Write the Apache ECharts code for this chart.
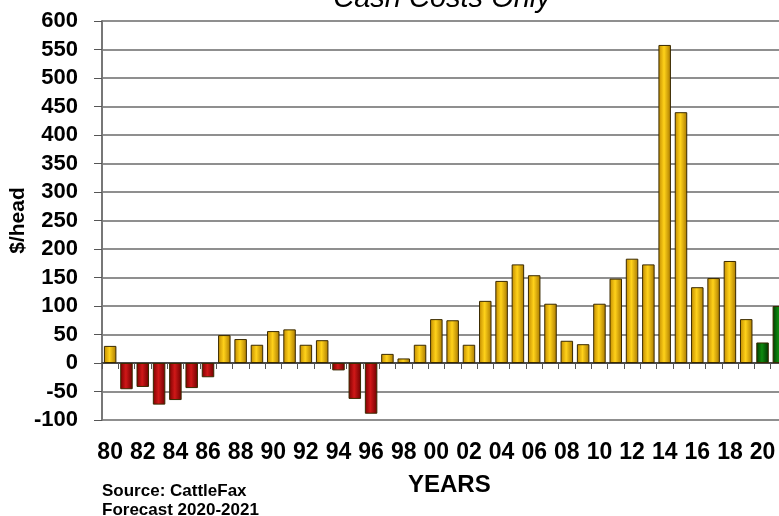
<!DOCTYPE html>
<html>
<head>
<meta charset="utf-8">
<script src="https://cdn.jsdelivr.net/npm/echarts@6/dist/echarts.min.js"></script>
<style>html,body{margin:0;padding:0;background:#fff}#c{width:779px;height:516px}</style>
</head>
<body>
<div id="c"></div>
<script>
const years = ['80','81','82','83','84','85','86','87','88','89','90','91','92','93','94','95','96','97','98','99',
  '00','01','02','03','04','05','06','07','08','09','10','11','12','13','14','15','16','17','18','19','20','21'];
const values = [30,-46,-42,-73,-65,-44,-25,49,42,32,56,59,32,40,-13,-63,-89,16,8,32,
  77,75,32,109,144,173,154,104,39,33,104,148,183,173,558,440,133,149,179,77,36,100];
const forecastYears = ['20','21'];
const yTicks = {min:-100, max:600, interval:50};

function grad(a,b,c){
  return {type:'linear',x:0,y:0,x2:1,y2:0,colorStops:[{offset:0,color:a},{offset:0.45,color:b},{offset:1,color:c}]};
}
const gold = grad('#c08a00','#ffd21a','#a87800');
const red = grad('#7a0000','#d01818','#6e0000');
const green = grad('#003a00','#0f8a0f','#003000');

const data = values.map((v,i)=>({
  value:v,
  itemStyle:{color: forecastYears.includes(years[i]) ? green : (v<0 ? red : gold)}
}));

const chart = echarts.init(document.getElementById('c'));
chart.setOption({
  animation:false,
  grid:{left:102,top:21,width:685,bottom:96,containLabel:false,outerBoundsMode:'none'},
  xAxis:[
    {type:'category',data:years,position:'bottom',
     axisLine:{onZero:true,lineStyle:{color:'#333',width:1.5}},
     axisTick:{show:true,interval:0,length:6,inside:false,lineStyle:{color:'#555'}},
     axisLabel:{show:false},splitLine:{show:false}},
    {type:'category',data:years,position:'bottom',
     axisLine:{show:false,onZero:false},axisTick:{show:false},
     axisLabel:{interval:1,margin:21,fontFamily:'Liberation Sans, Arial',fontWeight:'bold',fontSize:23,color:'#000'}}
  ],
  yAxis:{type:'value',min:yTicks.min,max:yTicks.max,interval:yTicks.interval,
    name:'$/head',nameLocation:'middle',nameRotate:90,nameGap:73,nameMoveOverlap:false,
    nameTextStyle:{fontFamily:'Liberation Sans, Arial',fontWeight:'bold',fontSize:21,color:'#000'},
    axisLine:{show:true,lineStyle:{color:'#777',width:2}},
    axisTick:{show:true,length:8,lineStyle:{color:'#555'}},
    axisLabel:{margin:24,fontFamily:'Liberation Sans, Arial',fontWeight:'bold',fontSize:22,color:'#000'},
    splitLine:{lineStyle:{color:'#6a6a6a',width:1.5}}},
  series:[{type:'bar',xAxisIndex:0,data:data,barWidth:12.5,
    itemStyle:{borderColor:'#3a2a00',borderWidth:1}}],
  graphic:[
    {type:'text',x:442,y:13,style:{text:'Cash Costs Only',align:'center',verticalAlign:'bottom',font:'italic 29px "Liberation Sans", Arial',fill:'#000'}},
    {type:'text',left:408,top:473,style:{text:'YEARS',font:'bold 24px "Liberation Sans", Arial',fill:'#000'}},
    {type:'text',left:102,top:482,style:{text:'Source: CattleFax\nForecast 2020-2021',font:'bold 17px "Liberation Sans", Arial',fill:'#000',lineHeight:19}}
  ]
});
</script>
</body>
</html>
